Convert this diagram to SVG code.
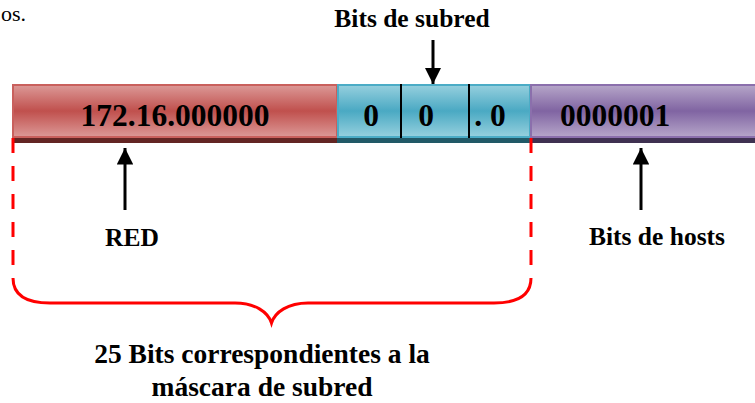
<svg xmlns="http://www.w3.org/2000/svg" width="755" height="403" viewBox="0 0 755 403">
<style>
.lbl{font-family:"Liberation Serif","Times New Roman",serif;font-weight:bold;fill:#000;text-anchor:middle}
.bar{font-size:31.5px}
.sm{font-size:25.5px}
.big{font-size:27.5px}
.conn{stroke:#000;stroke-width:3;fill:none}
.dash{stroke:#ff0000;stroke-width:3;fill:none;stroke-dasharray:15 13}
.brace{stroke:#ff0000;stroke-width:3;fill:none}
</style>
<defs>
<linearGradient id="gR" x1="0" y1="0" x2="0" y2="1">
<stop offset="0" stop-color="#dc9997"/><stop offset="0.5" stop-color="#c0504d"/><stop offset="1" stop-color="#dc9997"/>
</linearGradient>
<linearGradient id="gB" x1="0" y1="0" x2="0" y2="1">
<stop offset="0" stop-color="#96d0de"/><stop offset="0.5" stop-color="#4aa9c3"/><stop offset="1" stop-color="#96d0de"/>
</linearGradient>
<linearGradient id="gP" x1="0" y1="0" x2="0" y2="1">
<stop offset="0" stop-color="#b6a6c9"/><stop offset="0.5" stop-color="#8064a2"/><stop offset="1" stop-color="#b6a6c9"/>
</linearGradient>
<marker id="ah" viewBox="0 0 10 10" refX="10" refY="5" markerWidth="5.5" markerHeight="5.5" orient="auto" markerUnits="strokeWidth">
<path d="M0,0 L10,5 L0,10 z" fill="#000"/>
</marker>
</defs>
<text x="1" y="21" style="font-family:'Liberation Serif','Times New Roman',serif;font-size:22px">os.</text>
<g id="red">
<rect x="12" y="138" width="328" height="5" fill="#632523"/>
<rect x="13" y="85" width="324" height="52" fill="url(#gR)" stroke="#c9605d" stroke-width="2"/>
<text class="lbl bar" x="175" y="126">172.16.000000</text>
</g>
<g id="subred">
<rect x="337" y="138" width="193" height="5" fill="#215967"/>
<rect x="338" y="85" width="192" height="52" fill="url(#gB)" stroke="#4bacc6" stroke-width="2"/>
<line x1="401" y1="84" x2="401" y2="138" stroke="#000" stroke-width="2"/>
<line x1="469" y1="84" x2="469" y2="138" stroke="#000" stroke-width="2"/>
<text class="lbl bar" x="371" y="126">0</text>
<text class="lbl bar" x="426" y="126">0</text>
<text class="lbl bar" x="490" y="126">. 0</text>
</g>
<g id="hosts">
<rect x="530" y="138" width="225" height="5" fill="#3f3151"/>
<rect x="531" y="85" width="230" height="52" fill="url(#gP)" stroke="#8b6fac" stroke-width="2"/>
<text class="lbl bar" x="615" y="126">0000001</text>
</g>
<g id="label-subred"><text class="lbl sm" x="412" y="27">Bits de subred</text></g>
<g id="label-red"><text class="lbl sm" x="132" y="246">RED</text></g>
<g id="label-hosts"><text class="lbl sm" x="657" y="245">Bits de hosts</text></g>
<g id="label-mask">
<text class="lbl big" x="262" y="363">25 Bits correspondientes a la</text>
<text class="lbl big" x="262" y="396">máscara de subred</text>
</g>
<g id="connectors">
<line class="conn" x1="433" y1="40" x2="433" y2="84" marker-end="url(#ah)"/>
<line class="conn" x1="125" y1="210" x2="125" y2="148" marker-end="url(#ah)"/>
<line class="conn" x1="641" y1="210" x2="641" y2="148" marker-end="url(#ah)"/>
<line class="dash" x1="13" y1="138" x2="13" y2="278"/>
<line class="dash" x1="531" y1="138" x2="531" y2="278"/>
<path class="brace" d="M13,278 C13,295 25,303 50,303 L235,303 C255,303 268,312 271.5,323 C275,312 288,303 308,303 L494,303 C519,303 531,295 531,278"/>
</g>
</svg>
